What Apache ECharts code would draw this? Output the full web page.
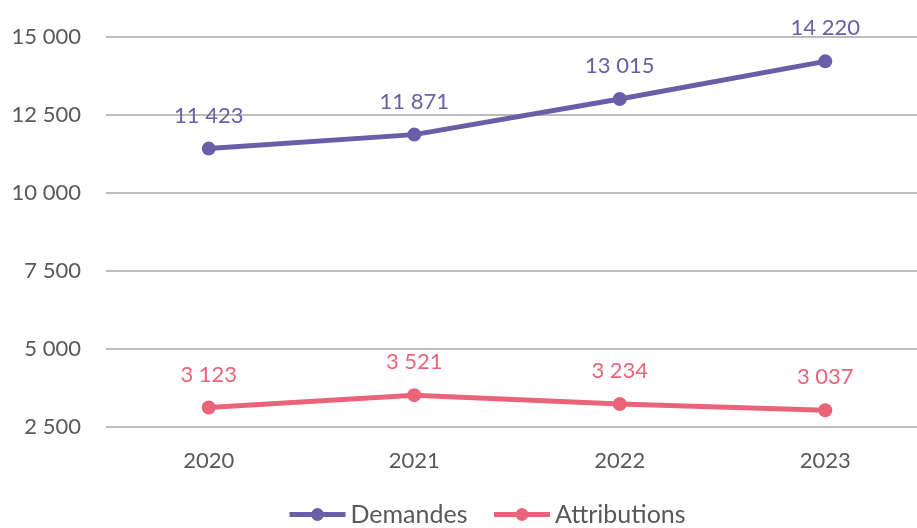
<!DOCTYPE html>
<html>
<head>
<meta charset="utf-8">
<script src="https://cdn.jsdelivr.net/npm/echarts@6/dist/echarts.min.js"></script>
<style>
html, body { margin: 0; padding: 0; background: #fff; }
#chart { width: 917px; height: 528px; }
</style>
</head>
<body>
<div id="chart"></div>
<script>
var years = ['2020', '2021', '2022', '2023'];
var demandes = [11423, 11871, 13015, 14220];
var attributions = [3123, 3521, 3234, 3037];
var yTicks = [2500, 5000, 7500, 10000, 12500, 15000];

var purple = '#6b5ea8';
var pink = '#ea6479';

function fmt(v) {
	return String(v).replace(/\B(?=(\d{3})+(?!\d))/g, ' ');
}

function makeSeries(name, data, color) {
	return {
		name: name,
		type: 'line',
		data: data,
		symbol: 'circle',
		symbolSize: 14,
		lineStyle: { color: color, width: 5 },
		itemStyle: { color: color },
		label: {
			show: true,
			position: 'top',
			distance: 15,
			color: color,
			fontSize: 22,
			fontFamily: 'Lato',
			formatter: function (p) { return fmt(p.value); }
		}
	};
}

var option = {
	animation: false,
	textStyle: { fontFamily: 'Lato' },
	grid: { left: 106, right: -11, top: 37, bottom: 101, outerBoundsMode: 'none' },
	legend: {
		bottom: -4,
		left: 282,
		itemWidth: 56,
		itemHeight: 16,
		itemGap: 24,
		lineStyle: { width: 5 },
		textStyle: { fontSize: 25, color: '#595959', fontFamily: 'Lato' },
		data: ['Demandes', 'Attributions']
	},
	xAxis: {
		type: 'category',
		data: years,
		boundaryGap: true,
		axisLine: { show: false },
		axisTick: { show: false },
		axisLabel: { color: '#595959', fontSize: 22, margin: 23 }
	},
	yAxis: {
		type: 'value',
		min: yTicks[0],
		max: yTicks[yTicks.length - 1],
		interval: 2500,
		axisLine: { show: false },
		axisTick: { show: false },
		splitLine: { lineStyle: { color: '#a6a6a6', width: 1.5 } },
		axisLabel: {
			color: '#595959',
			fontSize: 22,
			margin: 25,
			formatter: function (v) { return fmt(v); }
		}
	},
	series: [
		makeSeries('Demandes', demandes, purple),
		makeSeries('Attributions', attributions, pink)
	]
};

var myChart = echarts.init(document.getElementById('chart'));
myChart.setOption(option);
</script>
</body>
</html>
